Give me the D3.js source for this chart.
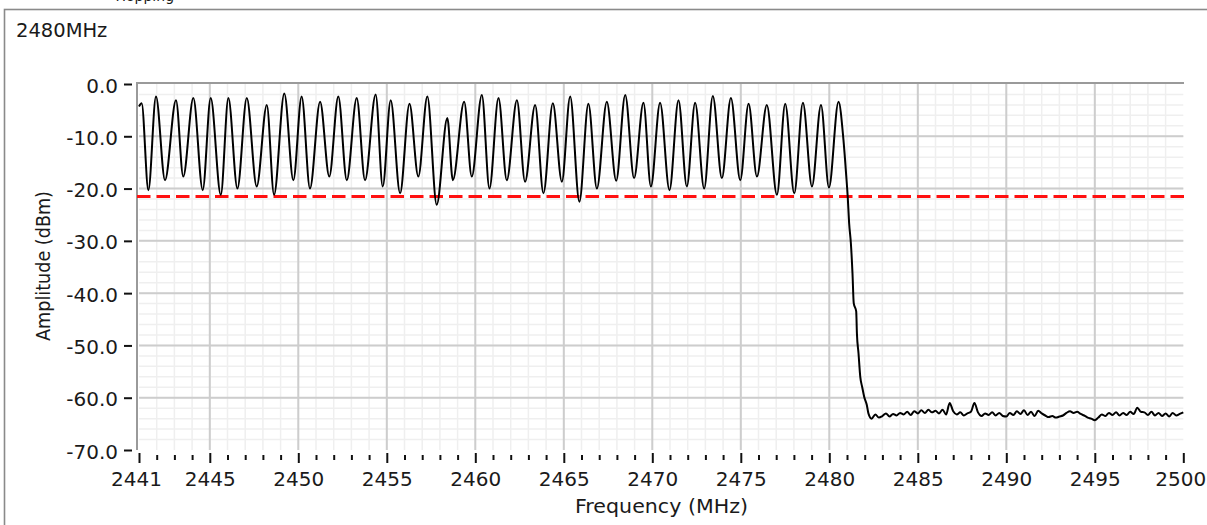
<!DOCTYPE html>
<html><head><meta charset="utf-8">
<script src="https://cdn.jsdelivr.net/npm/d3@7"></script>
<style>
html,body{margin:0;padding:0;background:#fff;}
svg{display:block;}
text{font-family:"DejaVu Sans",sans-serif;fill:#1a1a1a;}
</style>
</head><body>
<svg id="chart" width="1207" height="525"></svg>
<script>
// ---------- data ----------
const headerText = "Hopping";
const chartLabel = "2480MHz";
const xTitle = "Frequency (MHz)";
const yTitle = "Amplitude (dBm)";
const xDomain = [2441, 2500];
const yDomain = [-70, 0];
const xMajorTicks = [2441, 2445, 2450, 2455, 2460, 2465, 2470, 2475, 2480, 2485, 2490, 2495, 2500];
const yTicks = [0, -10, -20, -30, -40, -50, -60, -70];
const limitDbm = -21.5;

// hopping channels: peaks / troughs and the band-edge roll-off
const traceFreq = [2441.00, 2441.15, 2441.53, 2441.96, 2442.47, 2443.09, 2443.50, 2444.07, 2444.60, 2445.05,
  2445.62, 2446.05, 2446.56, 2447.09, 2447.65, 2448.22, 2448.63, 2449.21, 2449.72, 2450.19,
  2450.66, 2451.23, 2451.75, 2452.26, 2452.74, 2453.30, 2453.77, 2454.37, 2454.77, 2455.22,
  2455.75, 2456.28, 2456.78, 2457.29, 2457.82, 2458.42, 2458.73, 2459.37, 2459.80, 2460.37,
  2460.80, 2461.31, 2461.78, 2462.35, 2462.81, 2463.38, 2463.85, 2464.38, 2464.89, 2465.36,
  2465.88, 2466.39, 2466.87, 2467.43, 2467.96, 2468.47, 2468.97, 2469.50, 2469.92, 2470.44,
  2470.97, 2471.48, 2471.95, 2472.42, 2472.93, 2473.42, 2473.93, 2474.44, 2474.97, 2475.44,
  2475.91, 2476.47, 2477.04, 2477.51, 2478.02, 2478.51, 2479.02, 2479.53, 2479.98, 2480.52,
  2480.80, 2480.96, 2481.04, 2481.12, 2481.22, 2481.31, 2481.38, 2481.52, 2481.56, 2481.65,
  2481.75, 2481.86, 2481.97, 2482.12, 2482.21, 2482.39];
const traceAmp = [-4.3, -3.7, -20.3, -2.4, -18.4, -3.1, -17.7, -2.7, -20.3, -2.7,
  -21.2, -2.7, -20.0, -2.7, -19.6, -4.0, -21.2, -1.8, -18.4, -2.4,
  -20.0, -3.4, -17.7, -2.4, -18.4, -2.7, -18.4, -2.0, -19.6, -3.1,
  -20.9, -3.8, -17.7, -2.4, -23.1, -6.5, -18.4, -3.4, -17.7, -2.1,
  -20.0, -2.7, -18.4, -3.1, -18.7, -4.0, -20.9, -3.7, -18.7, -2.4,
  -22.5, -3.8, -20.0, -3.4, -18.5, -2.1, -18.0, -3.6, -19.6, -3.6,
  -20.3, -3.1, -19.6, -3.6, -20.0, -2.3, -18.0, -2.7, -18.4, -3.8,
  -17.7, -4.0, -21.2, -3.8, -20.9, -3.6, -19.6, -4.0, -19.8, -3.4,
  -10.7, -17.7, -21.5, -26.6, -30.5, -36.2, -41.9, -43.5, -47.7, -51.5,
  -56.0, -58.0, -59.8, -61.4, -63.0, -64.0];

// noise floor above the band edge, sampled every 0.2 MHz from 2482.6 MHz
const noiseStartMHz = 2482.6;
const noiseStepMHz = 0.2;
const noiseAmp = [-63.2, -63.8, -63.5, -63.0, -63.6, -63.1, -63.4, -62.9,
  -63.2, -62.7, -63.3, -62.6, -63.0, -62.4, -62.9, -62.3, -62.8,
  -62.5, -63.0, -62.3, -63.2, -61.0, -62.6, -63.2, -62.8, -63.4, -63.0,
  -62.7, -61.0, -62.8, -63.5, -63.0, -63.3, -62.8, -63.4, -62.9, -63.5,
  -63.6, -62.9, -63.3, -62.6, -63.1, -62.4, -63.3, -62.7, -63.5, -62.5,
  -63.0, -63.4, -63.7, -63.5, -63.8, -63.6, -63.4, -62.9, -62.6, -62.9,
  -62.7, -63.1, -63.4, -63.8, -64.0, -64.3, -63.8, -63.2, -63.5, -62.9,
  -63.3, -62.8, -63.4, -62.9, -63.3, -62.7, -63.1, -61.9, -62.7, -62.8,
  -63.3, -62.7, -63.4, -62.9, -63.5, -63.0, -63.6, -62.9, -63.4, -63.1, -62.8];

// ---------- drawing ----------
const svg = d3.select("#chart");
const x = d3.scaleLinear().domain(xDomain).range([139, 1183.3]);
const y = d3.scaleLinear().domain(yDomain).range([450, 84]);

// clipped header text and outer frame
svg.append("text").attr("x", 115.5).attr("y", 0.5).style("font-size", "14px").text(headerText);
svg.append("rect").attr("x", 4.5).attr("y", 9.5).attr("width", 1300).attr("height", 700)
  .attr("fill", "none").attr("stroke", "#8a8a8a").attr("stroke-width", 1.6);

svg.append("text").attr("x", 16).attr("y", 37).style("font-size", "19.5px").text(chartLabel);

// grid
const g = svg.append("g");
const minorX = d3.range(xDomain[0] + 1, xDomain[1]);
const minorY = d3.range(-68, 0, 2);
const majorX = xMajorTicks.filter(d => d > xDomain[0] && d < xDomain[1]);
const majorY = yTicks.filter(d => d > yDomain[0] && d < yDomain[1]);
g.selectAll(".mx").data(minorX).join("line")
  .attr("x1", d => x(d)).attr("x2", d => x(d)).attr("y1", y(0)).attr("y2", y(-70))
  .attr("stroke", "#efefef").attr("stroke-width", 1.5);
g.selectAll(".my").data(minorY).join("line")
  .attr("x1", x(xDomain[0])).attr("x2", x(xDomain[1])).attr("y1", d => y(d)).attr("y2", d => y(d))
  .attr("stroke", "#efefef").attr("stroke-width", 1.5);
g.selectAll(".Mx").data(majorX).join("line")
  .attr("x1", d => x(d)).attr("x2", d => x(d)).attr("y1", y(0)).attr("y2", y(-70))
  .attr("stroke", "#cdcdcd").attr("stroke-width", 2);
g.selectAll(".My").data(majorY).join("line")
  .attr("x1", x(xDomain[0])).attr("x2", x(xDomain[1])).attr("y1", d => y(d)).attr("y2", d => y(d))
  .attr("stroke", "#cdcdcd").attr("stroke-width", 2);

// plot frame (top + left)
svg.append("line").attr("x1", 137).attr("x2", 1184).attr("y1", 83).attr("y2", 83)
  .attr("stroke", "#9a9a9a").attr("stroke-width", 2);
svg.append("line").attr("x1", 137).attr("x2", 137).attr("y1", 82).attr("y2", 450)
  .attr("stroke", "#9a9a9a").attr("stroke-width", 2);

// limit line
svg.append("line").attr("x1", 137).attr("x2", 1184).attr("y1", y(limitDbm)).attr("y2", y(limitDbm))
  .attr("stroke", "#ff1010").attr("stroke-width", 3).attr("stroke-dasharray", "13.5,6");

// trace
const pts = traceFreq.map((f, i) => [f, traceAmp[i]])
  .concat(noiseAmp.map((a, i) => [noiseStartMHz + i * noiseStepMHz, a]));
svg.append("path").datum(pts)
  .attr("fill", "none").attr("stroke", "#000").attr("stroke-width", 2).attr("stroke-linejoin", "round")
  .attr("d", d3.line().x(d => x(d[0])).y(d => y(d[1])).curve(d3.curveMonotoneX));

// x axis (major + minor ticks)
const fmtX = d3.format("d");
const xAxis = svg.append("g").attr("transform", "translate(0,453)")
  .call(d3.axisBottom(x).tickValues(xMajorTicks).tickSize(10).tickPadding(9).tickFormat(fmtX));
xAxis.select(".domain").remove();
xAxis.selectAll("line").attr("stroke", "#111").attr("stroke-width", 2);
xAxis.selectAll("text").style("font-size", "20px").attr("fill", "#1a1a1a")
  .attr("dx", d => d === xDomain[1] ? -3 : (d === xDomain[0] ? -3 : 0));
const xMinor = svg.append("g").attr("transform", "translate(0,455)")
  .call(d3.axisBottom(x).tickValues(minorX.filter(d => !xMajorTicks.includes(d))).tickSize(5).tickFormat(""));
xMinor.select(".domain").remove();
xMinor.selectAll("line").attr("stroke", "#111").attr("stroke-width", 2);

// y axis
const fmtY = d => d3.format(".1f")(d).replace("\u2212", "-");
const yAxis = svg.append("g").attr("transform", "translate(132,0)")
  .call(d3.axisLeft(y).tickValues(yTicks).tickSize(8).tickPadding(6).tickFormat(fmtY));
yAxis.select(".domain").remove();
yAxis.selectAll("line").attr("stroke", "#111").attr("stroke-width", 2);
yAxis.selectAll("text").style("font-size", "20px").attr("fill", "#1a1a1a").attr("dy", "0.4em");

// titles
svg.append("text").attr("x", 661.5).attr("y", 513).attr("text-anchor", "middle")
  .style("font-size", "20px").attr("textLength", 173).attr("lengthAdjust", "spacingAndGlyphs").text(xTitle);
svg.append("text").attr("transform", "translate(50,266) rotate(-90)").attr("text-anchor", "middle")
  .style("font-size", "20px").attr("textLength", 150).attr("lengthAdjust", "spacingAndGlyphs").text(yTitle);
</script>
</body></html>
